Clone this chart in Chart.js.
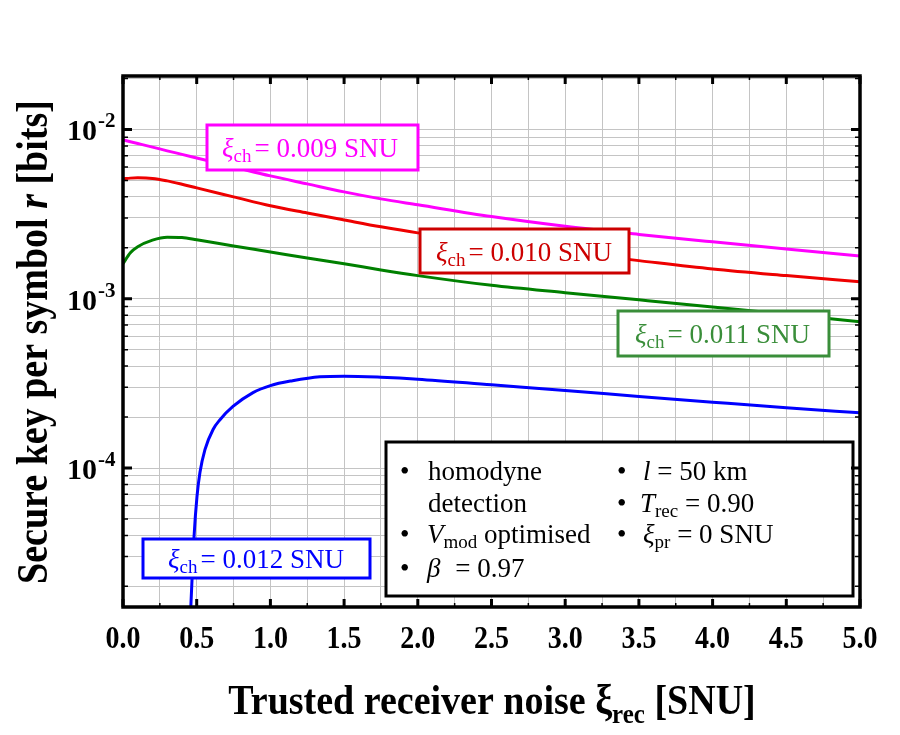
<!DOCTYPE html>
<html>
<head>
<meta charset="utf-8">
<script src="https://cdn.jsdelivr.net/npm/chart.js@4.4.1/dist/chart.umd.min.js"></script>
<style>
  body { margin: 0; background: #fff; }
</style>
</head>
<body>
<canvas id="keyChart" width="900" height="735"></canvas>
<script>
// trusted receiver noise (SNU) and secure key rate
const xNoise = [0, 0.05, 0.1, 0.2, 0.3, 0.4, 0.5, 0.75, 1.0, 1.25, 1.5, 1.75, 2.0, 2.5, 3.0, 3.5, 4.0, 4.5, 5.0];
const keyRate009 = [8.67e-3, 8.46e-3, 8.26e-3, 7.87e-3, 7.48e-3, 7.13e-3, 6.79e-3, 6.01e-3, 5.32e-3, 4.77e-3, 4.28e-3, 3.89e-3, 3.59e-3, 3.06e-3, 2.68e-3, 2.40e-3, 2.17e-3, 1.97e-3, 1.79e-3];
const keyRate010 = [5.11e-3, 5.16e-3, 5.18e-3, 5.14e-3, 4.97e-3, 4.75e-3, 4.52e-3, 4.00e-3, 3.54e-3, 3.21e-3, 2.92e-3, 2.66e-3, 2.45e-3, 2.14e-3, 1.89e-3, 1.68e-3, 1.50e-3, 1.37e-3, 1.26e-3];
const keyRate011 = [1.61e-3, 1.87e-3, 2.03e-3, 2.22e-3, 2.31e-3, 2.30e-3, 2.23e-3, 2.05e-3, 1.89e-3, 1.74e-3, 1.61e-3, 1.48e-3, 1.37e-3, 1.20e-3, 1.085e-3, 9.86e-4, 8.95e-4, 8.10e-4, 7.31e-4];

const xNoise012 = [0.455, 0.47, 0.482, 0.502, 0.522, 0.556, 0.611, 0.658, 0.746, 0.882, 1.0, 1.15, 1.336, 1.5, 1.75, 2.0, 2.5, 3.0, 3.5, 4.0, 4.5, 5.0];
const keyRate012 = [1.2e-5, 2.37e-5, 3.94e-5, 6.79e-5, 9.4e-5, 1.285e-4, 1.69e-4, 1.93e-4, 2.31e-4, 2.79e-4, 3.07e-4, 3.28e-4, 3.46e-4, 3.49e-4, 3.44e-4, 3.35e-4, 3.10e-4, 2.87e-4, 2.65e-4, 2.45e-4, 2.27e-4, 2.12e-4];

const xTickValues = [0, 0.5, 1.0, 1.5, 2.0, 2.5, 3.0, 3.5, 4.0, 4.5, 5.0];
const xTickLabels = ["0.0", "0.5", "1.0", "1.5", "2.0", "2.5", "3.0", "3.5", "4.0", "4.5", "5.0"];
const yTickValues = [1e-4, 1e-3, 1e-2];
const yTickExponents = ["-4", "-3", "-2"];

const serif = "'Liberation Serif', 'Times New Roman', serif";

function points(xs, ys) {
    return xs.map(function (x, i) {
        return { x: x, y: ys[i] };
    });
}

function drawParts(ctx, x, y, parts) {
    parts.forEach(function (p) {
        ctx.font = p.font;
        ctx.fillText(p.text, x, y + (p.dy || 0));
        x += ctx.measureText(p.text).width + (p.gap || 0);
    });
    return x;
}

function partsWidth(ctx, parts) {
    let w = 0;
    parts.forEach(function (p) {
        ctx.font = p.font;
        w += ctx.measureText(p.text).width + (p.gap || 0);
    });
    return w;
}

function xiLabel(value) {
    return [
        { text: "ξ", font: "italic 27px " + serif },
        { text: "ch", font: "19px " + serif, dy: 5, gap: 3 },
        { text: "= " + value + " SNU", font: "27px " + serif }
    ];
}

// boxed curve labels: [left, top, width, height], text start, baseline
const curveLabels = [
    { value: "0.009", color: "#ff00ff", box: [207, 125, 211, 45], tx: 222, ty: 157 },
    { value: "0.010", color: "#cc0000", box: [420, 229, 209, 44], tx: 436, ty: 261 },
    { value: "0.011", color: "#3a8e3a", box: [618, 311, 211, 45], tx: 635, ty: 343 },
    { value: "0.012", color: "#0000ff", box: [143, 539, 227, 39], tx: 168, ty: 568 }
];

const decor = {
    id: "decor",
    afterDatasetsDraw(chart) {
        const ctx = chart.ctx;
        const a = chart.chartArea;
        const xs = chart.scales.x;
        const ys = chart.scales.y;

        ctx.save();

        // curve labels
        curveLabels.forEach(function (l) {
            ctx.fillStyle = "#ffffff";
            ctx.fillRect(l.box[0], l.box[1], l.box[2], l.box[3]);
            ctx.lineWidth = 3;
            ctx.strokeStyle = l.color;
            ctx.strokeRect(l.box[0], l.box[1], l.box[2], l.box[3]);
            ctx.fillStyle = l.color;
            ctx.textAlign = "left";
            ctx.textBaseline = "alphabetic";
            drawParts(ctx, l.tx, l.ty, xiLabel(l.value));
        });

        // parameter box
        ctx.fillStyle = "#ffffff";
        ctx.fillRect(386, 442, 467, 154);
        ctx.lineWidth = 3;
        ctx.strokeStyle = "#000000";
        ctx.strokeRect(386, 442, 467, 154);
        ctx.fillStyle = "#000000";
        const reg = "27px " + serif;
        const ita = "italic 27px " + serif;
        const sub = "19px " + serif;
        ctx.font = reg;
        [480, 543, 577].forEach(function (y) { ctx.fillText("•", 400, y); });
        [480, 512, 543].forEach(function (y) { ctx.fillText("•", 617, y); });
        drawParts(ctx, 428, 480, [{ text: "homodyne", font: reg }]);
        drawParts(ctx, 428, 512, [{ text: "detection", font: reg }]);
        drawParts(ctx, 427, 543, [
            { text: "V", font: ita },
            { text: "mod", font: sub, dy: 5 },
            { text: " optimised", font: reg }
        ]);
        drawParts(ctx, 427, 577, [
            { text: "β", font: ita, gap: 8 },
            { text: " = 0.97", font: reg }
        ]);
        drawParts(ctx, 643, 480, [
            { text: "l", font: ita },
            { text: " = 50 km", font: reg }
        ]);
        drawParts(ctx, 640, 512, [
            { text: "T", font: ita },
            { text: "rec", font: sub, dy: 5 },
            { text: " = 0.90", font: reg }
        ]);
        drawParts(ctx, 643, 543, [
            { text: "ξ", font: ita },
            { text: "pr", font: sub, dy: 5 },
            { text: " = 0 SNU", font: reg }
        ]);

        // frame
        ctx.lineWidth = 3.5;
        ctx.strokeStyle = "#000000";
        ctx.strokeRect(a.left, a.top, a.right - a.left, a.bottom - a.top);

        // inward tick marks on all four sides
        xs.ticks.forEach(function (t) {
            const px = xs.getPixelForValue(t.value);
            const major = Math.abs(t.value * 2 - Math.round(t.value * 2)) < 1e-6;
            const len = major ? 8 : 4;
            ctx.lineWidth = major ? 3 : 1.5;
            ctx.beginPath();
            ctx.moveTo(px, a.bottom);
            ctx.lineTo(px, a.bottom - len);
            ctx.moveTo(px, a.top);
            ctx.lineTo(px, a.top + len);
            ctx.stroke();
        });
        ys.ticks.forEach(function (t) {
            const py = ys.getPixelForValue(t.value);
            const major = yTickValues.some(function (v) { return Math.abs(v - t.value) / v < 1e-6; });
            const len = major ? 9 : 5;
            ctx.lineWidth = major ? 3 : 1.5;
            ctx.beginPath();
            ctx.moveTo(a.left, py);
            ctx.lineTo(a.left + len, py);
            ctx.moveTo(a.right, py);
            ctx.lineTo(a.right - len, py);
            ctx.stroke();
        });

        // x tick labels (slightly tall, like the original)
        ctx.fillStyle = "#000000";
        ctx.font = "bold 28px " + serif;
        ctx.textAlign = "center";
        xTickValues.forEach(function (v, i) {
            ctx.save();
            ctx.translate(xs.getPixelForValue(v), 648);
            ctx.scale(1, 1.1);
            ctx.fillText(xTickLabels[i], 0, 0);
            ctx.restore();
        });

        // y tick labels 10^n
        yTickValues.forEach(function (v, i) {
            const py = ys.getPixelForValue(v);
            ctx.textAlign = "right";
            ctx.font = "bold 30px " + serif;
            ctx.fillText("10", 97, py + 11);
            ctx.textAlign = "left";
            ctx.font = "bold 21px " + serif;
            ctx.fillText(yTickExponents[i], 98, py - 2);
        });

        // x axis title
        ctx.textAlign = "left";
        const xTitle = [
            { text: "Trusted receiver noise ξ", font: "bold 38px " + serif },
            { text: "rec", font: "bold 25px " + serif, dy: 8 },
            { text: " [SNU]", font: "bold 38px " + serif }
        ];
        ctx.save();
        ctx.translate(492 - partsWidth(ctx, xTitle) / 2, 714);
        ctx.scale(1, 1.12);
        drawParts(ctx, 0, 0, xTitle);
        ctx.restore();

        // y axis title
        const yTitle = [
            { text: "Secure key per symbol ", font: "bold 38px " + serif },
            { text: "r", font: "italic bold 38px " + serif },
            { text: " [bits]", font: "bold 38px " + serif }
        ];
        ctx.translate(47, 342);
        ctx.rotate(-Math.PI / 2);
        ctx.scale(1, 1.15);
        drawParts(ctx, -partsWidth(ctx, yTitle) / 2, 0, yTitle);

        ctx.restore();
    }
};

const ctx = document.getElementById("keyChart");

new Chart(ctx, {
    type: "line",
    data: {
        datasets: [
            { label: "0.009 SNU", data: points(xNoise, keyRate009), borderColor: "#ff00ff" },
            { label: "0.010 SNU", data: points(xNoise, keyRate010), borderColor: "#ee0000" },
            { label: "0.011 SNU", data: points(xNoise, keyRate011), borderColor: "#008000" },
            { label: "0.012 SNU", data: points(xNoise012, keyRate012), borderColor: "#0000ff" }
        ]
    },
    options: {
        responsive: false,
        animation: false,
        layout: { padding: { left: 123, right: 40, top: 76, bottom: 128 } },
        elements: {
            line: { borderWidth: 3, cubicInterpolationMode: "monotone", fill: false },
            point: { radius: 0 }
        },
        plugins: {
            legend: { display: false },
            tooltip: { enabled: false }
        },
        scales: {
            x: {
                type: "linear",
                min: 0,
                max: 5,
                ticks: { display: false, stepSize: 0.25 },
                grid: { color: "#c4c4c4", lineWidth: 1, drawTicks: false },
                border: { display: false }
            },
            y: {
                type: "logarithmic",
                min: 1.51e-5,
                max: 0.0207,
                afterBuildTicks: function (scale) {
                    const ticks = [];
                    for (let e = -5; e <= -2; e++) {
                        for (let m = 1; m <= 9; m++) {
                            const v = m * Math.pow(10, e);
                            if (v >= scale.min && v <= scale.max) ticks.push({ value: v });
                        }
                    }
                    scale.ticks = ticks;
                },
                ticks: { display: false },
                grid: { color: "#c4c4c4", lineWidth: 1, drawTicks: false },
                border: { display: false }
            }
        }
    },
    plugins: [decor]
});
</script>
</body>
</html>
